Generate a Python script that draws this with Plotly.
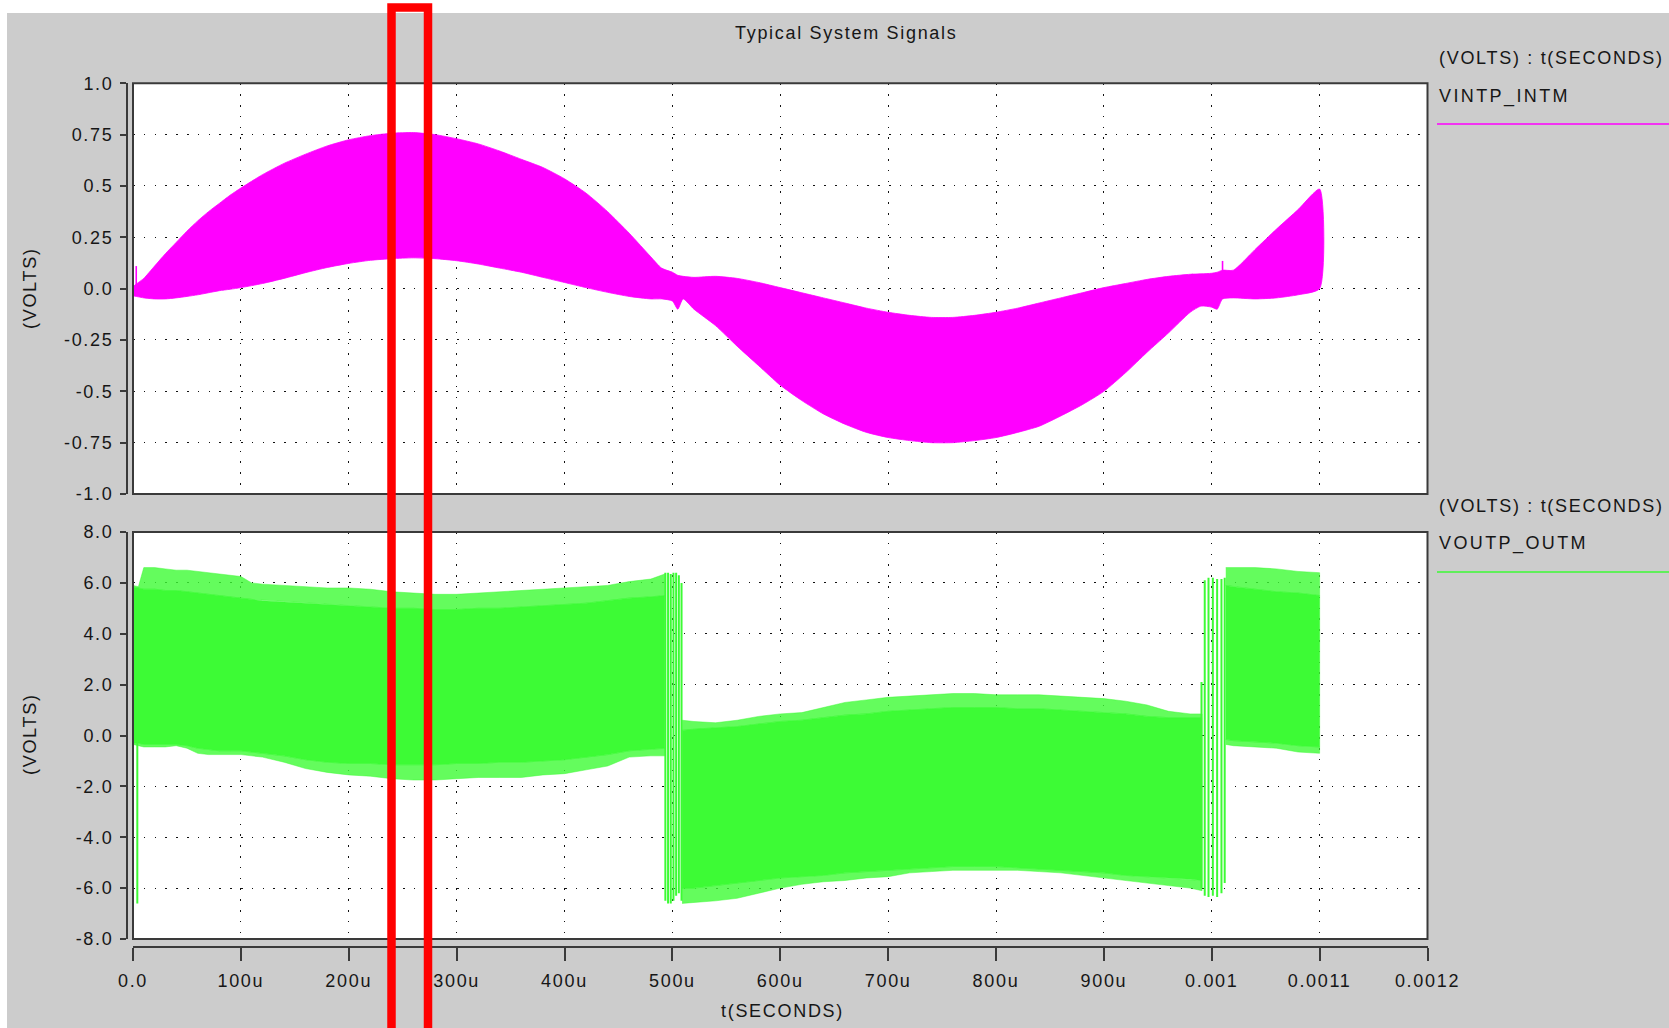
import plotly.graph_objects as go

W, H = 1669, 1028

# ---------------- data (time in microseconds) ----------------
top_t = [0, 5, 10, 20, 30, 40, 50, 60, 70, 80, 90, 100, 120, 140, 160, 180, 200, 220, 240, 260,
         280, 300, 320, 340, 360, 380, 400, 420, 440, 460, 480, 490, 500, 505, 510, 520, 540, 560,
         580, 600, 620, 640, 660, 680, 700, 720, 740, 760, 780, 800, 820, 840, 860, 880, 900, 920,
         940, 960, 980, 990, 1000, 1005, 1010, 1020, 1040, 1060, 1080, 1100]
top_hi = [0.01, 0.03, 0.05, 0.11, 0.17, 0.225, 0.28, 0.33, 0.375, 0.415, 0.455, 0.49, 0.555, 0.61,
          0.655, 0.695, 0.725, 0.745, 0.757, 0.76, 0.75, 0.73, 0.705, 0.67, 0.63, 0.59, 0.535,
          0.465, 0.375, 0.27, 0.155, 0.10, 0.08, 0.065, 0.06, 0.055, 0.06, 0.05, 0.03, 0.005, -0.02,
          -0.045, -0.07, -0.095, -0.115, -0.13, -0.14, -0.14, -0.13, -0.115, -0.095, -0.07,
          -0.045, -0.02, 0.005, 0.025, 0.045, 0.06, 0.07, 0.072, 0.075, 0.08, 0.09, 0.09, 0.19,
          0.29, 0.385, 0.485]
top_lo = [-0.035, -0.04, -0.045, -0.05, -0.05, -0.045, -0.038, -0.03, -0.02, -0.01, -0.003, 0.005,
          0.025, 0.05, 0.078, 0.103, 0.123, 0.138, 0.146, 0.15, 0.146, 0.136, 0.12, 0.10, 0.08,
          0.055, 0.03, 0.005, -0.018, -0.038, -0.05, -0.05, -0.06, -0.10, -0.05, -0.10, -0.18,
          -0.28, -0.375, -0.47, -0.545, -0.61, -0.66, -0.70, -0.725, -0.74, -0.75, -0.75, -0.74,
          -0.725, -0.70, -0.67, -0.62, -0.565, -0.50, -0.41, -0.31, -0.215, -0.115, -0.085, -0.09,
          -0.10, -0.05, -0.045, -0.05, -0.045, -0.03, 0.0]
top_spike_t = [3, 1010]
top_spike_lo = [-0.03, 0.0]
top_spike_hi = [0.11, 0.135]

# bottom signal: three bands (A, B, C)
A_t = [0, 5, 10, 20, 30, 40, 50, 60, 70, 80, 90, 100, 110, 120, 140, 160, 180, 200, 220, 240, 260,
       280, 300, 320, 340, 360, 380, 400, 420, 440, 460, 480, 493]
A_hi_outer = [5.9, 5.85, 6.6, 6.6, 6.55, 6.5, 6.5, 6.45, 6.4, 6.35, 6.3, 6.25, 6.0, 5.95, 5.9, 5.85,
              5.8, 5.8, 5.75, 5.65, 5.6, 5.55, 5.55, 5.6, 5.65, 5.7, 5.75, 5.8, 5.85, 5.9, 6.05,
              6.15, 6.35]
A_hi_body = [5.8, 5.8, 5.75, 5.75, 5.7, 5.7, 5.65, 5.6, 5.55, 5.5, 5.45, 5.4, 5.35, 5.3, 5.25, 5.2,
             5.15, 5.1, 5.05, 5.0, 5.0, 4.95, 4.95, 5.0, 5.0, 5.05, 5.1, 5.15, 5.2, 5.3, 5.4, 5.45, 5.5]
A_lo_body = [-0.3, -0.3, -0.35, -0.35, -0.35, -0.35, -0.4, -0.5, -0.55, -0.6, -0.6, -0.6, -0.65,
             -0.7, -0.8, -0.95, -1.05, -1.1, -1.1, -1.15, -1.15, -1.15, -1.1, -1.1, -1.05, -1.05,
             -1.0, -0.95, -0.85, -0.75, -0.6, -0.55, -0.5]
A_lo_outer = [-0.35, -0.4, -0.45, -0.45, -0.45, -0.4, -0.5, -0.7, -0.75, -0.75, -0.75, -0.75, -0.8,
              -0.85, -1.05, -1.3, -1.45, -1.55, -1.6, -1.7, -1.75, -1.75, -1.7, -1.65, -1.65, -1.65,
              -1.55, -1.5, -1.35, -1.2, -0.85, -0.8, -0.8]

B_t = [509, 520, 540, 560, 580, 600, 620, 640, 660, 680, 700, 720, 740, 760, 780, 800, 820, 840,
       860, 880, 900, 920, 940, 960, 980, 991]
B_hi_outer = [0.6, 0.55, 0.5, 0.6, 0.75, 0.85, 0.9, 1.1, 1.3, 1.4, 1.5, 1.55, 1.6, 1.65, 1.65, 1.6,
              1.6, 1.6, 1.55, 1.5, 1.45, 1.35, 1.2, 0.95, 0.85, 0.85]
B_hi_body = [0.2, 0.25, 0.3, 0.35, 0.45, 0.55, 0.6, 0.7, 0.8, 0.85, 0.95, 1.0, 1.05, 1.1, 1.1, 1.1,
             1.05, 1.05, 1.0, 0.95, 0.9, 0.85, 0.75, 0.7, 0.7, 0.7]
B_lo_body = [-6.0, -6.0, -5.9, -5.8, -5.7, -5.6, -5.55, -5.5, -5.4, -5.35, -5.3, -5.25, -5.2, -5.15,
             -5.15, -5.15, -5.2, -5.25, -5.3, -5.35, -5.4, -5.5, -5.55, -5.6, -5.65, -5.7]
B_lo_outer = [-6.6, -6.55, -6.5, -6.4, -6.2, -6.0, -5.85, -5.75, -5.7, -5.6, -5.55, -5.4, -5.35,
              -5.3, -5.3, -5.3, -5.3, -5.35, -5.4, -5.5, -5.6, -5.7, -5.8, -5.9, -6.0, -6.1]

C_t = [1013, 1020, 1040, 1060, 1080, 1100]
C_hi_outer = [6.6, 6.6, 6.6, 6.55, 6.45, 6.4]
C_hi_body = [5.9, 5.85, 5.75, 5.65, 5.6, 5.5]
C_lo_body = [-0.15, -0.2, -0.25, -0.3, -0.4, -0.45]
C_lo_outer = [-0.35, -0.4, -0.45, -0.5, -0.65, -0.7]

bot_spike_t = [4, 493.5, 496, 498.5, 501, 503.5, 506, 508.5,
               990.5, 993.5, 997, 1001, 1005, 1009, 1012]
bot_spike_lo = [-6.6, -6.5, -6.6, -6.6, -6.5, -6.3, -6.2, -6.5,
                -6.0, -6.3, -6.35, -6.3, -6.35, -6.2, -5.8]
bot_spike_hi = [5.8, 6.4, 6.4, 6.35, 6.4, 6.4, 6.3, 6.0,
                2.1, 6.1, 6.2, 6.2, 6.15, 6.15, 6.2]

x_tickvals_us = [0, 100, 200, 300, 400, 500, 600, 700, 800, 900, 1000, 1100, 1200]
x_ticktext = ["0.0", "100u", "200u", "300u", "400u", "500u", "600u", "700u", "800u", "900u",
              "0.001", "0.0011", "0.0012"]
top_yticks = [1.0, 0.75, 0.5, 0.25, 0.0, -0.25, -0.5, -0.75, -1.0]
top_yticktext = ["1.0", "0.75", "0.5", "0.25", "0.0", "-0.25", "-0.5", "-0.75", "-1.0"]
bot_yticks = [8, 6, 4, 2, 0, -2, -4, -6, -8]
bot_yticktext = ["8.0", "6.0", "4.0", "2.0", "0.0", "-2.0", "-4.0", "-6.0", "-8.0"]

title_text = "Typical System Signals"
unit_text = "(VOLTS) : t(SECONDS)"
sig1_name = "VINTP_INTM"
sig2_name = "VOUTP_OUTM"
yaxis_title = "(VOLTS)"
xaxis_title = "t(SECONDS)"

# ---------------- styling ----------------
MAG = "#ff00ff"
GRN = "#3dfb35"
GRN_T = "rgba(61,251,53,0.8)"
GREY = "#cccccc"
BORDER = "#3a3a3a"
TXT = "#161616"
FONT = "Liberation Sans"
FS = 18
LS = "1.7px"


def sp(s, ls=LS):
    return '<span style="letter-spacing:%s">%s</span>' % (ls, s)


def px(x):
    return x / W


def py(y):
    return 1 - y / H


def sec(ts):
    return [v * 1e-6 for v in ts]


def band(t, hi, lo):
    return sec(t) + sec(t[::-1]), list(hi) + list(lo[::-1])


def vlines(ts, los, his):
    xs, ys = [], []
    for t, lo, hi in zip(ts, los, his):
        xs += [t * 1e-6, t * 1e-6, None]
        ys += [lo, hi, None]
    return xs, ys


fig = go.Figure()

# top signal
bx, by = band(top_t, top_hi, top_lo)
fig.add_trace(go.Scatter(x=bx, y=by, fill="toself", fillcolor=MAG, mode="lines",
                         line=dict(color=MAG, width=0.8, shape="spline", smoothing=0.6),
                         xaxis="x", yaxis="y", hoverinfo="skip", showlegend=False))
sx, sy = vlines(top_spike_t, top_spike_lo, top_spike_hi)
fig.add_trace(go.Scatter(x=sx, y=sy, mode="lines", line=dict(color=MAG, width=1.6),
                         xaxis="x", yaxis="y", hoverinfo="skip", showlegend=False))

# bottom signal
for t, ho, hb, lb, lo in [(A_t, A_hi_outer, A_hi_body, A_lo_body, A_lo_outer),
                          (B_t, B_hi_outer, B_hi_body, B_lo_body, B_lo_outer),
                          (C_t, C_hi_outer, C_hi_body, C_lo_body, C_lo_outer)]:
    for hi, low, col in [(ho, hb, GRN_T), (lb, lo, GRN_T), (hb, lb, GRN)]:
        bx, by = band(t, hi, low)
        fig.add_trace(go.Scatter(x=bx, y=by, fill="toself", fillcolor=col, mode="lines",
                                 line=dict(color=col, width=0.6), xaxis="x2", yaxis="y2",
                                 hoverinfo="skip", showlegend=False))
sx, sy = vlines(bot_spike_t, bot_spike_lo, bot_spike_hi)
fig.add_trace(go.Scatter(x=sx, y=sy, mode="lines", line=dict(color=GRN, width=2.0),
                         xaxis="x2", yaxis="y2", hoverinfo="skip", showlegend=False))

# ---------------- layout ----------------
XD = [px(133), px(1427.5)]
TOP_YD = [py(494), py(83.3)]
BOT_YD = [py(939), py(532)]
tickfont = dict(family=FONT, size=FS, color=TXT)
grid = dict(showgrid=True, gridcolor="#111111", gridwidth=1.3, griddash="1.6px,9.2px",
            zeroline=False, automargin=False)
xt_vals = sec(x_tickvals_us)

fig.update_layout(
    template="none",
    width=W, height=H, autosize=False, margin=dict(l=0, r=0, t=0, b=0, pad=0),
    paper_bgcolor=GREY, plot_bgcolor="white", showlegend=False,
    font=dict(family=FONT, size=FS, color=TXT),
    xaxis=dict(domain=XD, range=[0, 0.0012], anchor="y", tickvals=xt_vals,
               showticklabels=False, ticks="", showline=False, **grid),
    yaxis=dict(domain=TOP_YD, range=[-1, 1], anchor="free", position=px(127),
               tickvals=top_yticks, ticktext=[sp(s) for s in top_yticktext],
               ticks="outside", ticklen=6, tickwidth=1.5, tickcolor=BORDER,
               showline=True, linecolor=BORDER, linewidth=1.8, tickfont=tickfont,
               ticklabelstandoff=3, **grid),
    xaxis2=dict(domain=XD, range=[0, 0.0012], anchor="free", position=py(947),
                tickvals=xt_vals, ticktext=[sp(s) for s in x_ticktext],
                ticks="outside", ticklen=13, tickwidth=1.5, tickcolor=BORDER,
                showline=True, linecolor=BORDER, linewidth=1.8, tickfont=tickfont,
                ticklabelstandoff=4, **grid),
    yaxis2=dict(domain=BOT_YD, range=[-8, 8], anchor="free", position=px(127),
                tickvals=bot_yticks, ticktext=[sp(s) for s in bot_yticktext],
                ticks="outside", ticklen=6, tickwidth=1.5, tickcolor=BORDER,
                showline=True, linecolor=BORDER, linewidth=1.8, tickfont=tickfont,
                ticklabelstandoff=3, **grid),
)

rx0, rx1, ry = px(391.5), px(428), py(7.5)
shapes = [
    # white strips outside the grey panel
    dict(type="rect", xref="paper", yref="paper", x0=0, x1=1, y0=py(13), y1=1,
         fillcolor="white", line=dict(width=0), layer="below"),
    dict(type="rect", xref="paper", yref="paper", x0=0, x1=px(7), y0=0, y1=1,
         fillcolor="white", line=dict(width=0), layer="below"),
    # plot borders
    dict(type="rect", xref="x domain", yref="y domain", x0=0, x1=1, y0=0, y1=1,
         line=dict(color=BORDER, width=2), layer="above"),
    dict(type="rect", xref="x2 domain", yref="y2 domain", x0=0, x1=1, y0=0, y1=1,
         line=dict(color=BORDER, width=2), layer="above"),
    # legend lines
    dict(type="line", xref="paper", yref="paper", x0=px(1437), x1=1, y0=py(124), y1=py(124),
         line=dict(color=MAG, width=1.5)),
    dict(type="line", xref="paper", yref="paper", x0=px(1437), x1=1, y0=py(572), y1=py(572),
         line=dict(color=GRN, width=1.5)),
    # red highlight box (open at the bottom edge of the picture)
    dict(type="path", xref="paper", yref="paper",
         path="M %f,0 L %f,%f L %f,%f L %f,0" % (rx0, rx0, ry, rx1, ry, rx1),
         line=dict(color="#ff0000", width=8.5), layer="above"),
]
fig.update_layout(shapes=shapes)

afont = dict(family=FONT, size=FS, color=TXT)
ann = [
    dict(text=sp(title_text), x=px(846), y=py(33), xanchor="center", yanchor="middle"),
    dict(text=sp(unit_text), x=px(1437), y=py(58), xanchor="left", yanchor="middle"),
    dict(text=sp(sig1_name, "2.4px"), x=px(1437), y=py(96), xanchor="left", yanchor="middle"),
    dict(text=sp(unit_text), x=px(1437), y=py(506), xanchor="left", yanchor="middle"),
    dict(text=sp(sig2_name, "2.4px"), x=px(1437), y=py(543), xanchor="left", yanchor="middle"),
    dict(text=sp(yaxis_title), x=px(30), y=py(288), xanchor="center", yanchor="middle",
         textangle=-90),
    dict(text=sp(yaxis_title), x=px(30), y=py(734), xanchor="center", yanchor="middle",
         textangle=-90),
    dict(text=sp(xaxis_title), x=px(782), y=py(1011), xanchor="center", yanchor="middle"),
]
for a in ann:
    a.update(xref="paper", yref="paper", showarrow=False, font=afont)
fig.update_layout(annotations=ann)

fig.write_html("out.html", config={"displayModeBar": False})
